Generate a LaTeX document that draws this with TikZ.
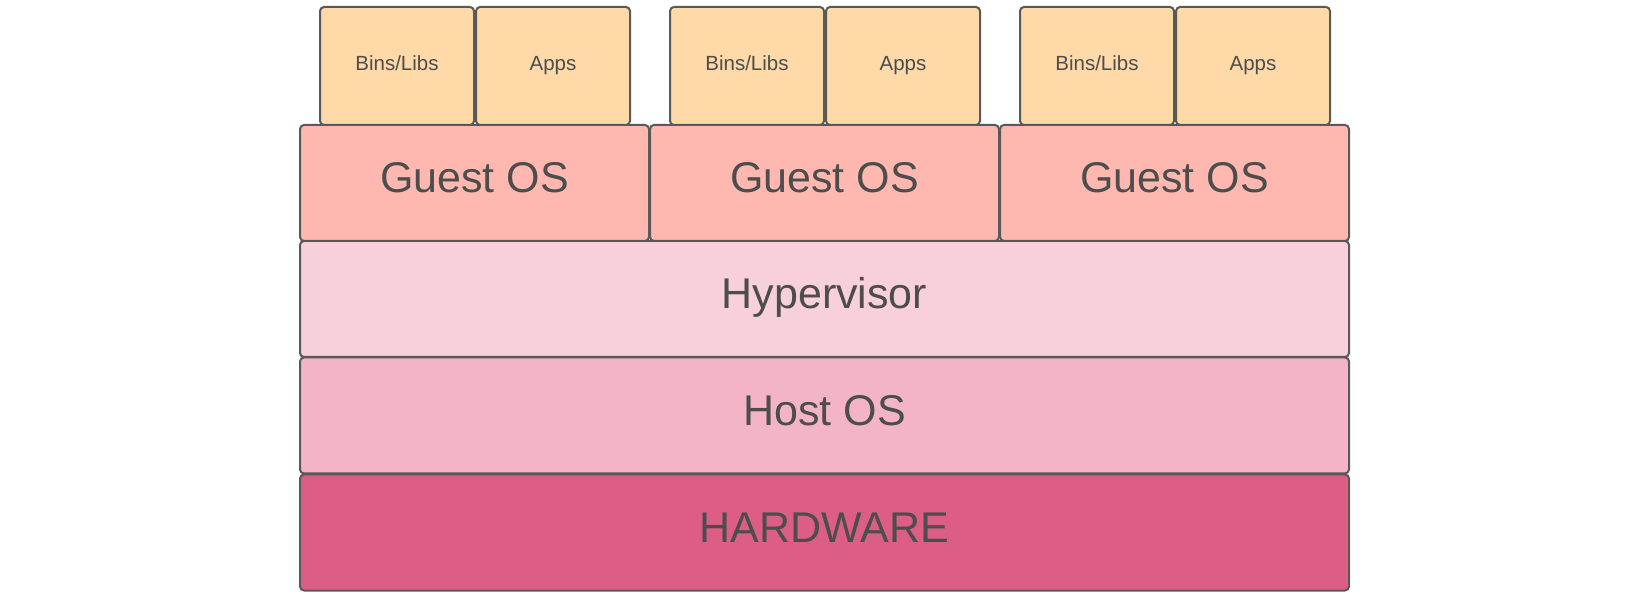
\documentclass[tikz,border=0pt]{standalone}
\usepackage{fontspec}
\setmainfont{Liberation Sans}
\definecolor{edge}{HTML}{595959}
\definecolor{ink}{HTML}{4D4D4D}
\definecolor{peach}{HTML}{FFD9A8}
\definecolor{salmon}{HTML}{FFB8B0}
\definecolor{blush}{HTML}{F8D0DC}
\definecolor{rose}{HTML}{F3B4C8}
\definecolor{berry}{HTML}{DC5E85}
\begin{document}
\begin{tikzpicture}[x=1pt,y=-1pt,
  layer/.style={draw=edge, line width=2pt, rounded corners=4pt, inner sep=0pt,
    text=ink, font=\fontsize{43}{43}\selectfont,
    text height=31pt, text depth=11pt},
  small/.style={layer, font=\fontsize{20.5}{20.5}\selectfont,
    text height=15pt, text depth=5pt,
    minimum width=154pt, minimum height=118pt, fill=peach},
  guest/.style={layer, minimum width=349pt, minimum height=116pt, fill=salmon},
  wide/.style={layer, minimum width=1049pt, minimum height=116pt}]
\useasboundingbox (0,0) rectangle (1650,601);

% bottom layers of the stack
\node[wide, fill=berry] (hw) at (824.5,532.5) {HARDWARE};
\node[wide, fill=rose] (host) at (824.5,415.5) {Host OS};
\node[wide, fill=blush] (hyp) at (824.5,299) {Hypervisor};

% guest operating systems
\node[guest] (g1) at (474.5,183) {Guest OS};
\node[guest] (g2) at (824.5,183) {Guest OS};
\node[guest] (g3) at (1174.5,183) {Guest OS};

% binaries and applications on each guest
\node[small] (b1) at (397,66) {Bins/Libs};
\node[small] (a1) at (553,66) {Apps};
\node[small] (b2) at (747,66) {Bins/Libs};
\node[small] (a2) at (903,66) {Apps};
\node[small] (b3) at (1097,66) {Bins/Libs};
\node[small] (a3) at (1253,66) {Apps};
\end{tikzpicture}
\end{document}
